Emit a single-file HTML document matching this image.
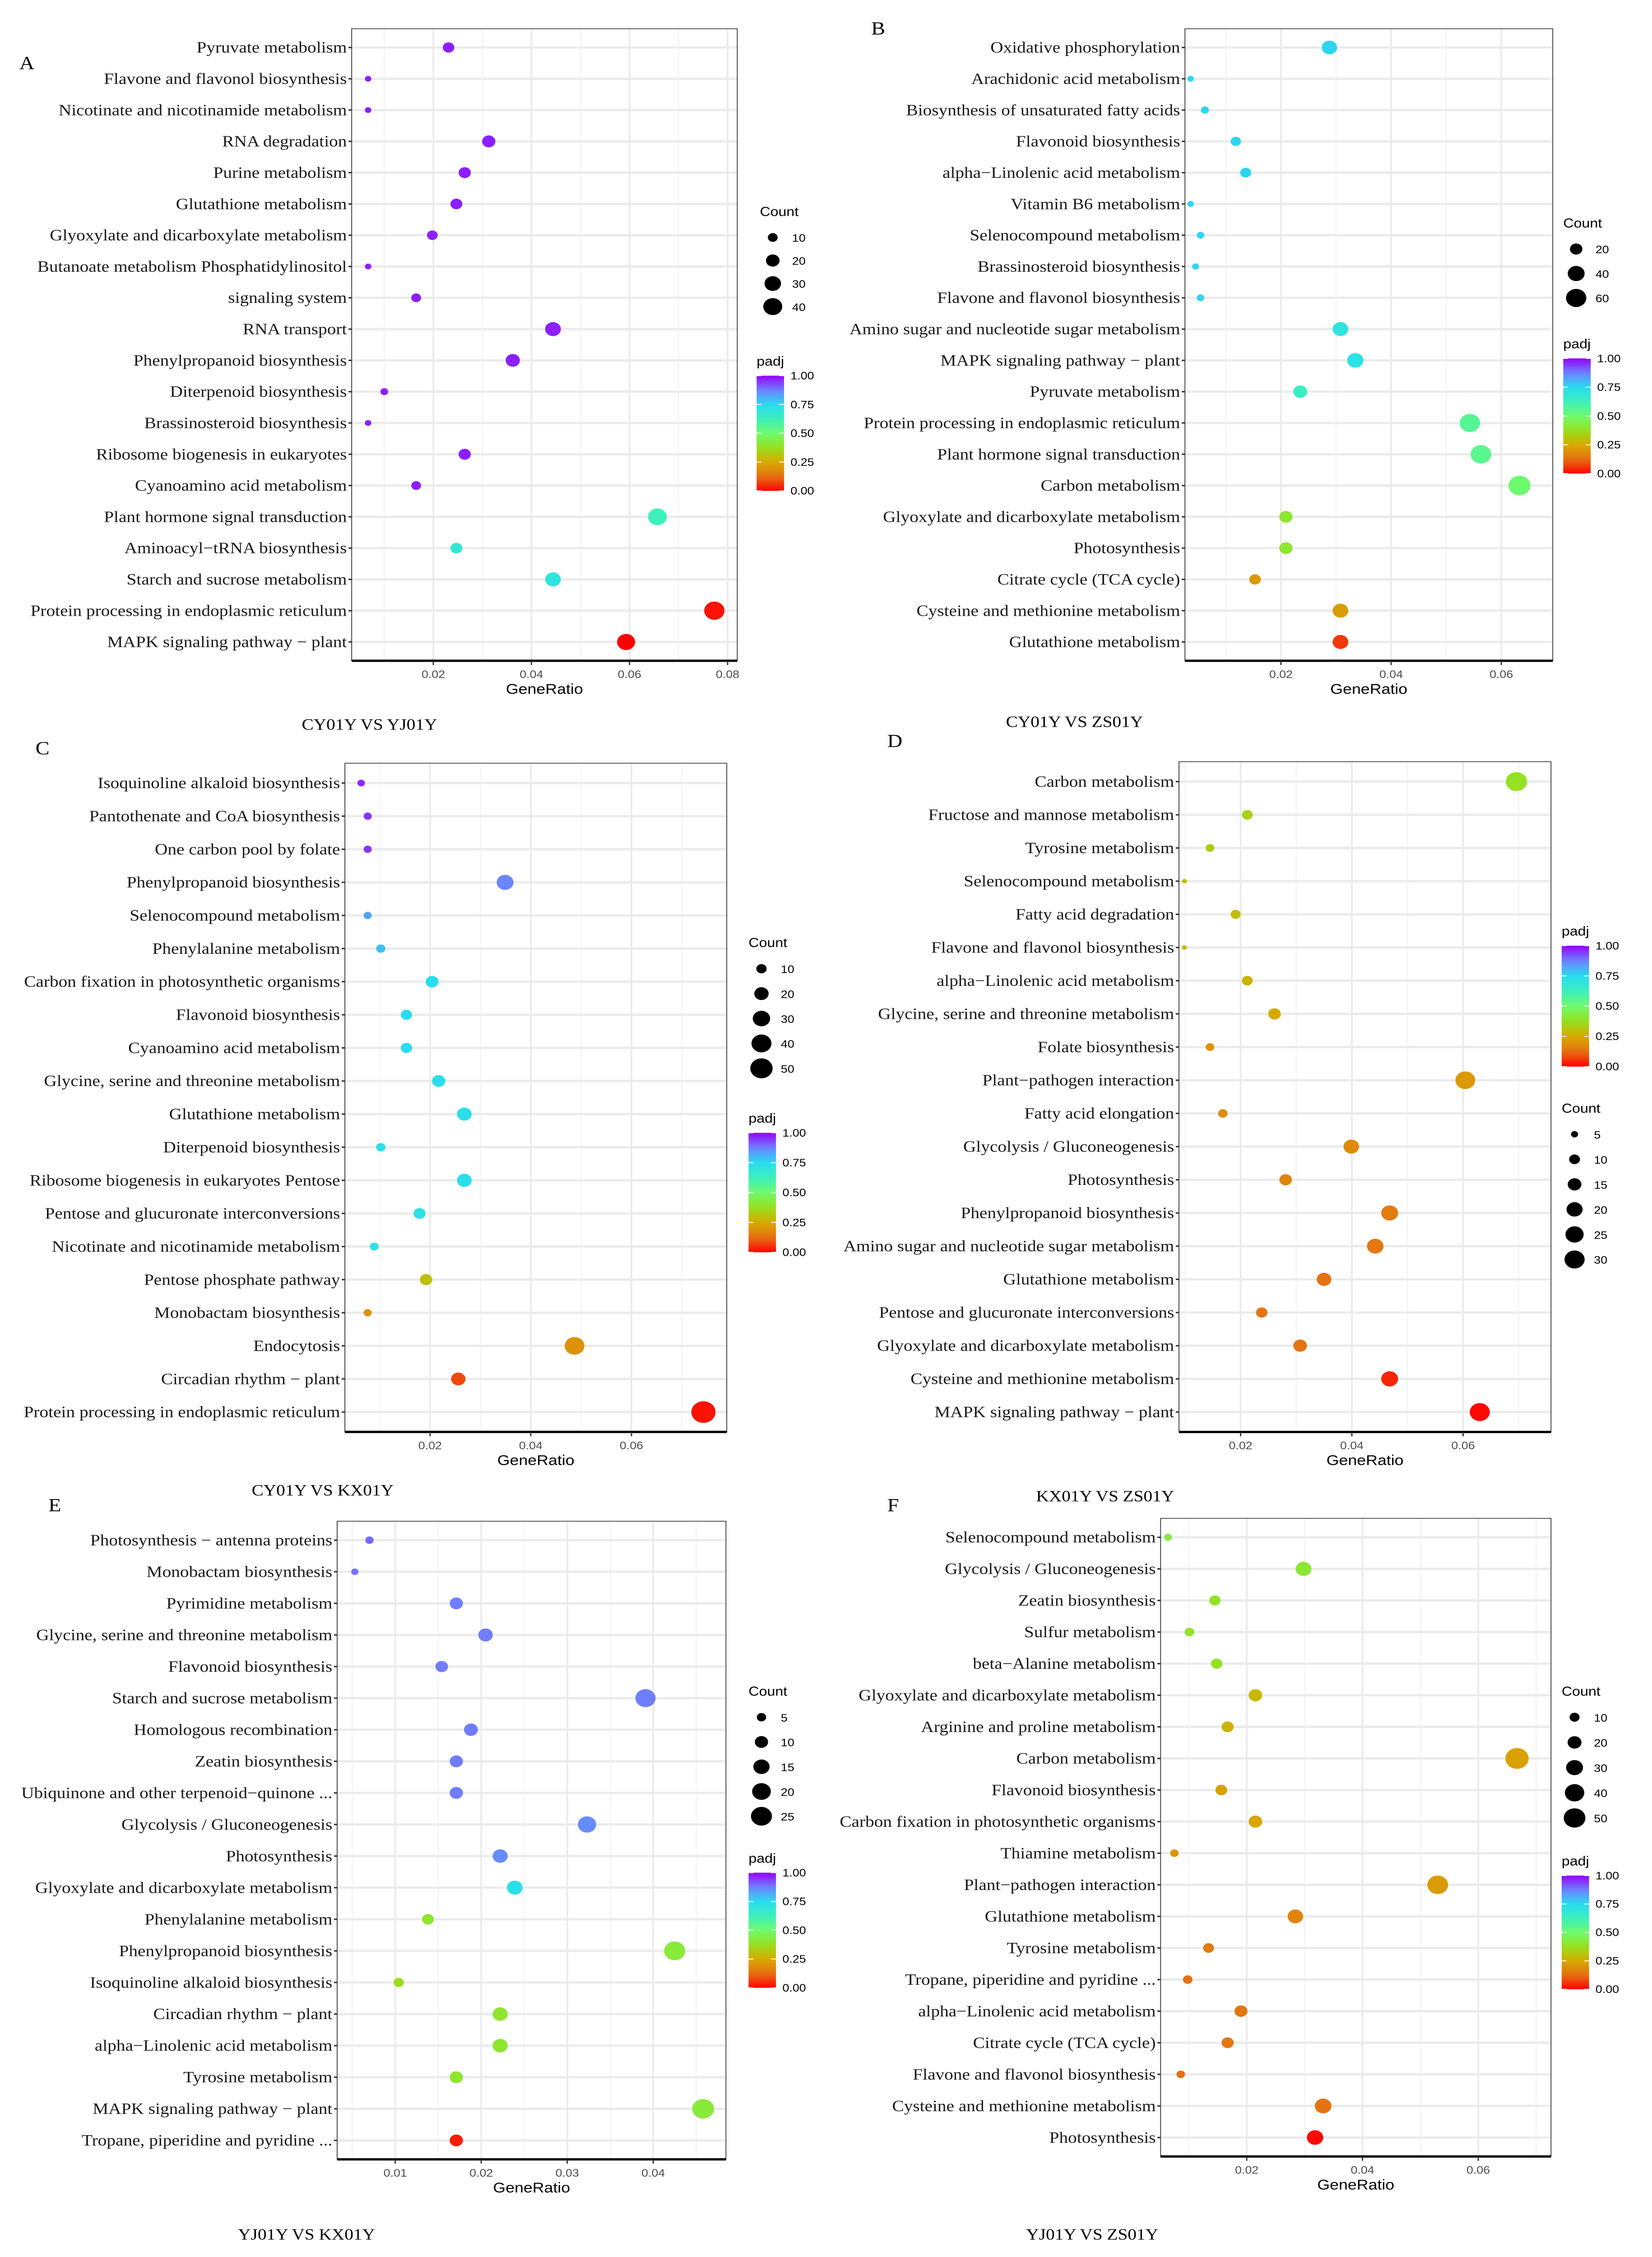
<!DOCTYPE html>
<html><head><meta charset="utf-8">
<style>
html,body{margin:0;padding:0;background:#fff;width:100%;height:100%;overflow:hidden;}
#fig{display:block;position:fixed;left:0;top:0;width:100vw;height:100vh;}
</style></head>
<body>
<svg id="fig" xmlns="http://www.w3.org/2000/svg" viewBox="0 0 1024 1568" preserveAspectRatio="none">
<rect x="0" y="0" width="1024" height="1568" fill="#fff"/>
<g id="root"></g>
</svg>
<script>
// ---------- Panel A ----------
const aTerms = ["Pyruvate metabolism","Flavone and flavonol biosynthesis","Nicotinate and nicotinamide metabolism","RNA degradation","Purine metabolism","Glutathione metabolism","Glyoxylate and dicarboxylate metabolism","Butanoate metabolism Phosphatidylinositol","signaling system","RNA transport","Phenylpropanoid biosynthesis","Diterpenoid biosynthesis","Brassinosteroid biosynthesis","Ribosome biogenesis in eukaryotes","Cyanoamino acid metabolism","Plant hormone signal transduction","Aminoacyl\u2212tRNA biosynthesis","Starch and sucrose metabolism","Protein processing in endoplasmic reticulum","MAPK signaling pathway \u2212 plant"];
const aRatio = [0.0231,0.0067,0.0067,0.0313,0.0264,0.0247,0.0198,0.0067,0.0165,0.0444,0.0362,0.0100,0.0067,0.0264,0.0165,0.0657,0.0247,0.0444,0.0773,0.0593];
const aCount = [14,4,4,19,16,15,12,4,10,27,22,6,4,16,10,39,15,27,46,36];
const aPadj = [0.97,0.97,0.97,0.97,0.97,0.97,0.97,0.97,0.97,0.97,0.97,0.97,0.97,0.97,0.97,0.62,0.68,0.70,0.02,0.0];
const aTicks = [0.02,0.04,0.06,0.08];
const aTickLabels = ["0.02","0.04","0.06","0.08"];
const aCountBreaks = [10,20,30,40];

// ---------- Panel B ----------
const bTerms = ["Oxidative phosphorylation","Arachidonic acid metabolism","Biosynthesis of unsaturated fatty acids","Flavonoid biosynthesis","alpha\u2212Linolenic acid metabolism","Vitamin B6 metabolism","Selenocompound metabolism","Brassinosteroid biosynthesis","Flavone and flavonol biosynthesis","Amino sugar and nucleotide sugar metabolism","MAPK signaling pathway \u2212 plant","Pyruvate metabolism","Protein processing in endoplasmic reticulum","Plant hormone signal transduction","Carbon metabolism","Glyoxylate and dicarboxylate metabolism","Photosynthesis","Citrate cycle (TCA cycle)","Cysteine and methionine metabolism","Glutathione metabolism"];
const bRatio = [0.0288,0.0036,0.0062,0.0118,0.0136,0.0036,0.0054,0.0045,0.0054,0.0308,0.0335,0.0235,0.0543,0.0563,0.0633,0.0209,0.0209,0.0153,0.0308,0.0308];
const bCount = [32,4,7,13,15,4,6,5,6,34,37,26,60,62,70,23,23,17,34,34];
const bPadj = [0.76,0.76,0.76,0.76,0.76,0.76,0.76,0.76,0.76,0.70,0.72,0.64,0.56,0.55,0.50,0.40,0.40,0.21,0.22,0.06];
const bTicks = [0.02,0.04,0.06];
const bTickLabels = ["0.02","0.04","0.06"];
const bCountBreaks = [20,40,60];

// ---------- Panel C ----------
const cTerms = ["Isoquinoline alkaloid biosynthesis","Pantothenate and CoA biosynthesis","One carbon pool by folate","Phenylpropanoid biosynthesis","Selenocompound metabolism","Phenylalanine metabolism","Carbon fixation in photosynthetic organisms","Flavonoid biosynthesis","Cyanoamino acid metabolism","Glycine, serine and threonine metabolism","Glutathione metabolism","Diterpenoid biosynthesis","Ribosome biogenesis in eukaryotes Pentose","Pentose and glucuronate interconversions","Nicotinate and nicotinamide metabolism","Pentose phosphate pathway","Monobactam biosynthesis","Endocytosis","Circadian rhythm \u2212 plant","Protein processing in endoplasmic reticulum"];
const cRatio = [0.0063,0.0076,0.0076,0.0349,0.0076,0.0102,0.0204,0.0153,0.0153,0.0217,0.0268,0.0102,0.0268,0.0179,0.0089,0.0192,0.0076,0.0487,0.0256,0.0743];
const cCount = [5,6,6,28,6,8,16,12,12,17,21,8,21,14,7,15,6,39,20,59];
const cPadj = [0.96,0.95,0.95,0.87,0.83,0.79,0.75,0.75,0.75,0.74,0.74,0.74,0.74,0.72,0.72,0.30,0.20,0.20,0.08,0.02];
const cTicks = [0.02,0.04,0.06];
const cTickLabels = ["0.02","0.04","0.06"];
const cCountBreaks = [10,20,30,40,50];

// ---------- Panel D ----------
const dTerms = ["Carbon metabolism","Fructose and mannose metabolism","Tyrosine metabolism","Selenocompound metabolism","Fatty acid degradation","Flavone and flavonol biosynthesis","alpha\u2212Linolenic acid metabolism","Glycine, serine and threonine metabolism","Folate biosynthesis","Plant\u2212pathogen interaction","Fatty acid elongation","Glycolysis / Gluconeogenesis","Photosynthesis","Phenylpropanoid biosynthesis","Amino sugar and nucleotide sugar metabolism","Glutathione metabolism","Pentose and glucuronate interconversions","Glyoxylate and dicarboxylate metabolism","Cysteine and methionine metabolism","MAPK signaling pathway \u2212 plant"];
const dRatio = [0.0696,0.0212,0.0145,0.0099,0.0191,0.0099,0.0212,0.0261,0.0145,0.0604,0.0168,0.0399,0.0281,0.0468,0.0442,0.0350,0.0238,0.0307,0.0468,0.0630];
const dCount = [33,10,7,3,9,3,10,13,7,29,8,19,13,22,21,17,11,15,22,30];
const dPadj = [0.38,0.34,0.33,0.30,0.29,0.28,0.27,0.25,0.20,0.21,0.18,0.18,0.17,0.15,0.14,0.13,0.13,0.13,0.04,0.01];
const dTicks = [0.02,0.04,0.06];
const dTickLabels = ["0.02","0.04","0.06"];
const dCountBreaks = [5,10,15,20,25,30];

// ---------- Panel E ----------
const eTerms = ["Photosynthesis \u2212 antenna proteins","Monobactam biosynthesis","Pyrimidine metabolism","Glycine, serine and threonine metabolism","Flavonoid biosynthesis","Starch and sucrose metabolism","Homologous recombination","Zeatin biosynthesis","Ubiquinone and other terpenoid\u2212quinone ...","Glycolysis / Gluconeogenesis","Photosynthesis","Glyoxylate and dicarboxylate metabolism","Phenylalanine metabolism","Phenylpropanoid biosynthesis","Isoquinoline alkaloid biosynthesis","Circadian rhythm \u2212 plant","alpha\u2212Linolenic acid metabolism","Tyrosine metabolism","MAPK signaling pathway \u2212 plant","Tropane, piperidine and pyridine ..."];
const eRatio = [0.0070,0.0053,0.0171,0.0205,0.0154,0.0391,0.0188,0.0171,0.0171,0.0323,0.0222,0.0239,0.0138,0.0425,0.0104,0.0222,0.0222,0.0171,0.0458,0.0171];
const eCount = [4,3,10,12,9,23,11,10,10,19,13,14,8,25,6,13,13,10,27,10];
const ePadj = [0.90,0.89,0.88,0.88,0.88,0.88,0.88,0.88,0.88,0.86,0.86,0.73,0.40,0.42,0.36,0.40,0.40,0.40,0.42,0.03];
const eTicks = [0.01,0.02,0.03,0.04];
const eTickLabels = ["0.01","0.02","0.03","0.04"];
const eCountBreaks = [5,10,15,20,25];

// ---------- Panel F ----------
const fTerms = ["Selenocompound metabolism","Glycolysis / Gluconeogenesis","Zeatin biosynthesis","Sulfur metabolism","beta\u2212Alanine metabolism","Glyoxylate and dicarboxylate metabolism","Arginine and proline metabolism","Carbon metabolism","Flavonoid biosynthesis","Carbon fixation in photosynthetic organisms","Thiamine metabolism","Plant\u2212pathogen interaction","Glutathione metabolism","Tyrosine metabolism","Tropane, piperidine and pyridine ...","alpha\u2212Linolenic acid metabolism","Citrate cycle (TCA cycle)","Flavone and flavonol biosynthesis","Cysteine and methionine metabolism","Photosynthesis"];
const fRatio = [0.0064,0.0298,0.0145,0.0101,0.0148,0.0215,0.0167,0.0667,0.0156,0.0215,0.0075,0.0530,0.0284,0.0134,0.0098,0.0190,0.0167,0.0086,0.0332,0.0318];
const fCount = [6,26,13,9,13,19,15,58,14,19,7,46,25,12,9,17,15,7,29,28];
const fPadj = [0.42,0.41,0.39,0.39,0.38,0.28,0.27,0.23,0.23,0.24,0.20,0.22,0.17,0.15,0.13,0.14,0.14,0.12,0.13,0.01];
const fTicks = [0.02,0.04,0.06];
const fTickLabels = ["0.02","0.04","0.06"];
const fCountBreaks = [10,20,30,40,50];

const padjBreaks = [1.00,0.75,0.50,0.25,0.00];
const padjBreakLabels = ["1.00","0.75","0.50","0.25","0.00"];

const NS = "http://www.w3.org/2000/svg";
const root = document.getElementById("root");
function mk(tag, attrs, parent){
  const e = document.createElementNS(NS, tag);
  for (const k in attrs) e.setAttribute(k, attrs[k]);
  (parent||root).appendChild(e);
  return e;
}
const stops = [[0,[255,0,0]],[0.12,[230,110,20]],[0.25,[215,170,0]],[0.375,[150,225,30]],[0.5,[110,250,110]],[0.625,[60,240,190]],[0.75,[40,220,240]],[0.875,[110,130,255]],[1,[150,0,255]]];
function colorOf(p){
  p = Math.max(0, Math.min(1, p));
  for (let i=0;i<stops.length-1;i++){
    const a=stops[i], b=stops[i+1];
    if (p>=a[0] && p<=b[0]){
      const t=(p-a[0])/(b[0]-a[0]);
      const c=a[1].map((v,j)=>Math.round(v+(b[1][j]-v)*t));
      return "rgb("+c.join(",")+")";
    }
  }
  return "rgb(150,0,255)";
}
let gradCount = 0;
function drawPanel(cfg){
  const g = mk("g", {});
  
  
  const xs = r => cfg.px0 + (r - cfg.t0) * (cfg.px1 - cfg.px0) / (cfg.t1 - cfg.t0);
  const n = cfg.terms.length;
  const step = (cfg.rowLast - cfg.rowFirst) / (n - 1);
  const ys = i => cfg.rowFirst + i * step;
  const top = cfg.rowFirst - 0.6 * step, bottom = cfg.rowLast + 0.6 * step;
  mk("rect", {x:cfg.left, y:top, width:cfg.right-cfg.left, height:bottom-top, fill:"#fff"}, g);
  const tickStep = cfg.ticks[1]-cfg.ticks[0];
  for (let v = cfg.ticks[0]-tickStep/2; v < cfg.ticks[cfg.ticks.length-1]+tickStep; v += tickStep){
    const x = xs(v);
    if (x > cfg.left && x < cfg.right) mk("line", {x1:x,x2:x,y1:top,y2:bottom,stroke:"#F2F2F2","stroke-width":0.6}, g);
  }
  cfg.ticks.forEach(v=>{ const x=xs(v); mk("line",{x1:x,x2:x,y1:top,y2:bottom,stroke:"#EBEBEB","stroke-width":1.1},g); });
  for (let i=0;i<n;i++) mk("line",{x1:cfg.left,x2:cfg.right,y1:ys(i),y2:ys(i),stroke:"#EBEBEB","stroke-width":1.6},g);
  mk("rect",{x:cfg.left,y:top,width:cfg.right-cfg.left,height:bottom-top,fill:"none",stroke:"#333","stroke-width":0.5},g);
  mk("line",{x1:cfg.left,x2:cfg.right,y1:bottom,y2:bottom,stroke:"#000","stroke-width":1.6},g);
  for (let i=0;i<n;i++){
    mk("line",{x1:cfg.left-2,x2:cfg.left,y1:ys(i),y2:ys(i),stroke:"#333","stroke-width":1},g);
    const t = mk("text",{x:cfg.left-3,y:ys(i)+3.6,"text-anchor":"end","font-family":"Liberation Serif, serif","font-size":11,fill:"#1a1a1a"},g);
    t.textContent = cfg.terms[i];
    
    
  }
  cfg.ticks.forEach((v,i)=>{
    const x=xs(v);
    mk("line",{x1:x,x2:x,y1:bottom,y2:bottom+3,stroke:"#333","stroke-width":0.8},g);
    const t=mk("text",{x:x,y:bottom+12,"text-anchor":"middle","font-family":"Liberation Sans, sans-serif","font-size":7.5,fill:"#4D4D4D"},g);
    t.textContent = cfg.tickLabels[i];
    
    
  });
  const xt = mk("text",{x:(cfg.left+cfg.right)/2,y:bottom+23,"text-anchor":"middle","font-family":"Liberation Sans, sans-serif","font-size":10,fill:"#000"},g);
  xt.textContent = "GeneRatio";
  
  
  for (let i=0;i<n;i++){
    const c = mk("circle",{cx:xs(cfg.ratio[i]),cy:ys(i),r:cfg.k*Math.sqrt(cfg.count[i])+cfg.r0,fill:colorOf(cfg.padj[i])},g);
    
    
  }
  function countLegend(lx, ly){
    const t=mk("text",{x:lx,y:ly,"font-family":"Liberation Sans, sans-serif","font-size":9,fill:"#000"},g);
    t.textContent="Count";
    
    
    cfg.countBreaks.forEach((c,i)=>{
      const y = ly + 18 + i*cfg.countGap;
      const d = mk("circle",{cx:lx+8,cy:y-3,r:cfg.k*Math.sqrt(c)+cfg.r0,fill:"#000"},g);
      
      
      const l=mk("text",{x:lx+20,y:y,"font-family":"Liberation Sans, sans-serif","font-size":7.5,fill:"#000"},g);
      l.textContent=String(c);
      
      
    });
  }
  function padjLegend(lx, ly, bh){
    const t=mk("text",{x:lx,y:ly,"font-family":"Liberation Sans, sans-serif","font-size":9,fill:"#000"},g);
    t.textContent="padj";
    
    
    const id="grad"+(gradCount++);
    const defs=mk("defs",{},g);
    const lg=mk("linearGradient",{id:id,x1:0,y1:0,x2:0,y2:1},defs);
    for (let s=0;s<=20;s++){ mk("stop",{offset:s/20,"stop-color":colorOf(1-s/20)},lg); }
    const by = ly+7;
    const bar=mk("rect",{x:lx,y:by,width:17,height:bh,fill:"url(#"+id+")"},g);
    
    
    padjBreaks.forEach((p,i)=>{
      const y = by + (1-p)*bh;
      mk("line",{x1:lx,x2:lx+3,y1:y,y2:y,stroke:"#fff","stroke-width":0.6},g);
      mk("line",{x1:lx+14,x2:lx+17,y1:y,y2:y,stroke:"#fff","stroke-width":0.6},g);
      const l=mk("text",{x:lx+21,y:y+2.6,"font-family":"Liberation Sans, sans-serif","font-size":7.5,fill:"#000"},g);
      l.textContent=padjBreakLabels[i];
      
      
    });
  }
  countLegend(cfg.countX, cfg.countY);
  padjLegend(cfg.padjX, cfg.padjY, cfg.barH);
  const L=mk("text",{x:cfg.letterX,y:cfg.letterY,"font-family":"Liberation Serif, serif","font-size":13,fill:"#000"},g);
  L.textContent=cfg.id;
  
  
  const C=mk("text",{x:cfg.capX,y:cfg.capY,"text-anchor":"middle","font-family":"Liberation Serif, serif","font-size":11,fill:"#000"},g);
  C.textContent=cfg.caption;
  
  
}

drawPanel({id:"A",terms:aTerms,ratio:aRatio,count:aCount,padj:aPadj,ticks:aTicks,tickLabels:aTickLabels,countBreaks:aCountBreaks,
  left:218,right:457,rowFirst:33,rowLast:446,t0:0.02,t1:0.08,px0:268.6,px1:451,k:0.9,r0:0.2,
  countX:471,countY:150,countGap:16,padjX:469,padjY:254,barH:80,letterX:12,letterY:48,capX:229,capY:507,caption:"CY01Y VS YJ01Y"});
drawPanel({id:"B",terms:bTerms,ratio:bRatio,count:bCount,padj:bPadj,ticks:bTicks,tickLabels:bTickLabels,countBreaks:bCountBreaks,
  left:734.5,right:962.5,rowFirst:33,rowLast:446,t0:0.02,t1:0.06,px0:794,px1:930.6,k:0.75,r0:0.5,
  countX:969,countY:158,countGap:17,padjX:969,padjY:242,barH:80,letterX:540,letterY:24,capX:666,capY:505,caption:"CY01Y VS ZS01Y"});
drawPanel({id:"C",terms:cTerms,ratio:cRatio,count:cCount,padj:cPadj,ticks:cTicks,tickLabels:cTickLabels,countBreaks:cCountBreaks,
  left:213.8,right:450.5,rowFirst:544,rowLast:981,t0:0.02,t1:0.06,px0:266.6,px1:391.4,k:0.95,r0:0.2,
  countX:464,countY:658,countGap:17.3,padjX:464,padjY:780,barH:83,letterX:22,letterY:524,capX:200,capY:1039,caption:"CY01Y VS KX01Y"});
drawPanel({id:"D",terms:dTerms,ratio:dRatio,count:dCount,padj:dPadj,ticks:dTicks,tickLabels:dTickLabels,countBreaks:dCountBreaks,
  left:730.8,right:961.4,rowFirst:543,rowLast:981,t0:0.02,t1:0.06,px0:769,px1:906.9,k:1.25,r0:-0.6,
  countX:968,countY:773,countGap:17.4,padjX:968,padjY:650,barH:84,letterX:550,letterY:519,capX:685,capY:1043,caption:"KX01Y VS ZS01Y"});
drawPanel({id:"E",terms:eTerms,ratio:eRatio,count:eCount,padj:ePadj,ticks:eTicks,tickLabels:eTickLabels,countBreaks:eCountBreaks,
  left:209,right:450,rowFirst:1070,rowLast:1487,t0:0.01,t1:0.04,px0:245,px1:404.9,k:1.3,r0:0,
  countX:464,countY:1178,countGap:17.2,padjX:464,padjY:1294,barH:80,letterX:30,letterY:1050,capX:190,capY:1556,caption:"YJ01Y VS KX01Y"});
drawPanel({id:"F",terms:fTerms,ratio:fRatio,count:fCount,padj:fPadj,ticks:fTicks,tickLabels:fTickLabels,countBreaks:fCountBreaks,
  left:719.4,right:961.4,rowFirst:1068,rowLast:1485,t0:0.02,t1:0.06,px0:772.8,px1:916.3,k:0.92,r0:0.2,
  countX:968,countY:1178,countGap:17.5,padjX:968,padjY:1296,barH:79,letterX:550,letterY:1050,capX:677,capY:1556,caption:"YJ01Y VS ZS01Y"});
</script>
</body></html>
